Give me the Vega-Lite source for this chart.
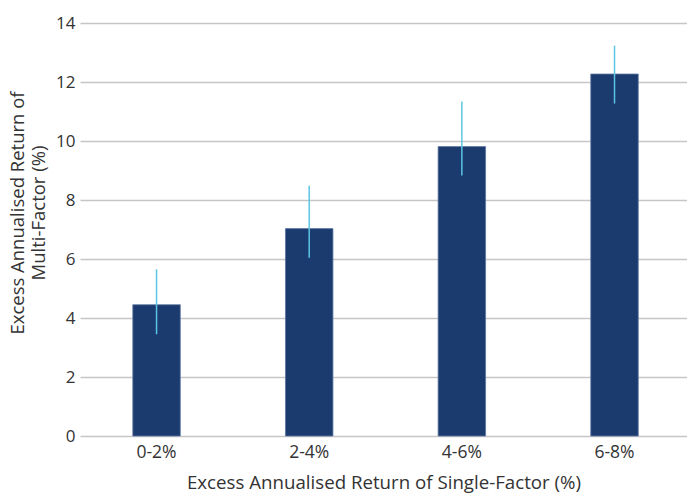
{
  "$schema": "https://vega.github.io/schema/vega-lite/v6.json",
  "width": 607,
  "height": 413,
  "autosize": "none",
  "padding": {"left": 80, "top": 23, "right": 0, "bottom": 58},
  "background": "white",
  "config": {
    "view": {"stroke": null},
    "font": "Open Sans",
    "axis": {"labelFont": "Open Sans", "titleFont": "Open Sans", "labelColor": "#333333", "titleColor": "#333333", "titleFontWeight": "normal"}
  },
  "data": {
    "values": [
      {"bucket": "0-2%", "value": 4.45, "low": 3.45, "high": 5.65},
      {"bucket": "2-4%", "value": 7.03, "low": 6.04, "high": 8.48},
      {"bucket": "4-6%", "value": 9.81, "low": 8.83, "high": 11.34},
      {"bucket": "6-8%", "value": 12.27, "low": 11.27, "high": 13.23}
    ]
  },
  "encoding": {
    "x": {
      "field": "bucket",
      "type": "nominal",
      "sort": null,
      "scale": {"paddingInner": 0.689, "paddingOuter": 0.3326, "align": 0.52},
      "axis": {
        "title": "Excess Annualised Return of Single-Factor (%)",
        "titleFontSize": 18.7,
        "titleBaseline": "alphabetic",
        "titleY": 52.5,
        "labelFontSize": 17.5,
        "labelBaseline": "alphabetic",
        "labelAngle": 0,
        "labelPadding": 21,
        "ticks": false,
        "tickSize": 0,
        "domain": false
      }
    }
  },
  "layer": [
    {
      "mark": {"type": "bar", "color": "#1b3a6e", "stroke": "#5d77a3", "strokeWidth": 0.8},
      "encoding": {
        "y": {
          "field": "value",
          "type": "quantitative",
          "scale": {"domain": [0, 14], "nice": false},
          "axis": {
            "values": [0, 2, 4, 6, 8, 10, 12, 14],
            "title": ["Excess Annualised Return of", "Multi-Factor (%)"],
            "titleFontSize": 18.5,
            "titleX": -53,
            "titleY": 189.5,
            "titleLineHeight": 21,
            "labelFontSize": 17,
            "labelPadding": 5,
            "ticks": false,
            "tickSize": 0,
            "domain": false,
            "grid": true,
            "gridColor": "#c6c6c6",
            "gridWidth": 1.5
          }
        }
      }
    },
    {
      "mark": {"type": "rule", "color": "#5bc6e4", "strokeWidth": 1.5},
      "encoding": {
        "y": {"field": "low", "type": "quantitative"},
        "y2": {"field": "high"}
      }
    }
  ]
}
